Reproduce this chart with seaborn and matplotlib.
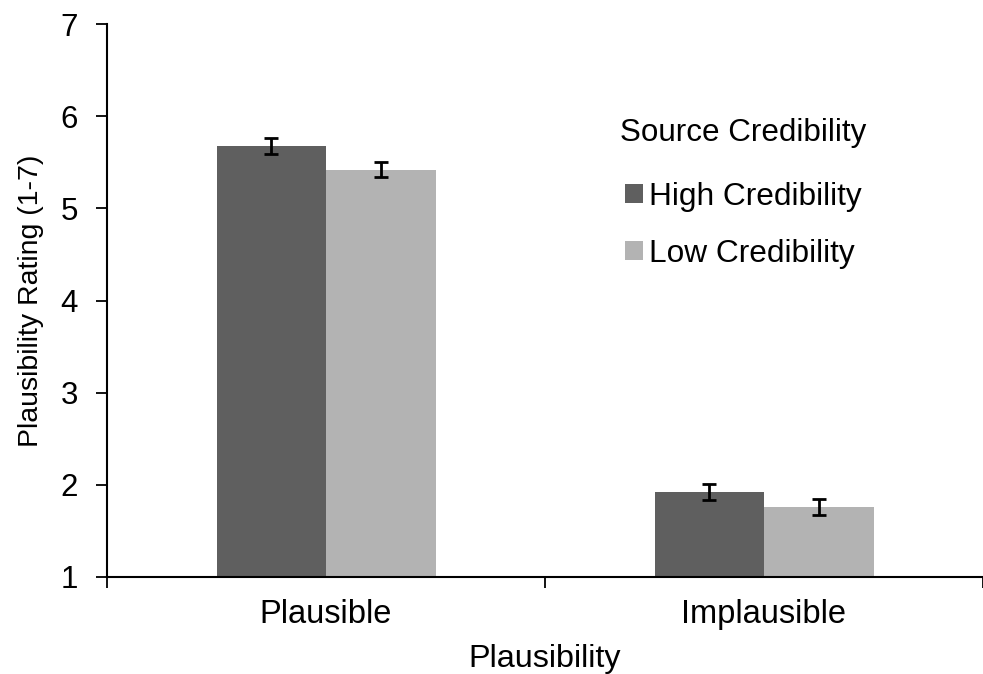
import matplotlib
matplotlib.use('Agg')
import matplotlib.pyplot as plt
import seaborn as sns
import pandas as pd

# data
plausibility = ['Plausible', 'Implausible']
high_cred = [5.68, 1.92]
low_cred = [5.42, 1.76]
high_err = [0.087, 0.088]
low_err = [0.08, 0.087]

sns.set_style('white')
plt.rcParams['font.family'] = ['Liberation Sans', 'DejaVu Sans']
plt.rcParams['text.color'] = 'black'
plt.rcParams['axes.labelcolor'] = 'black'
plt.rcParams['xtick.color'] = 'black'
plt.rcParams['ytick.color'] = 'black'

df = pd.DataFrame({
    'Plausibility': plausibility * 2,
    'Rating': high_cred + low_cred,
    'Source Credibility': ['High Credibility'] * 2 + ['Low Credibility'] * 2,
})
errs = {'High Credibility': high_err, 'Low Credibility': low_err}

fig = plt.figure(figsize=(9.83, 6.74), dpi=100)
ax = fig.add_axes([107 / 983, 1 - 577 / 674, (983 - 107) / 983, 553 / 674])

sns.barplot(data=df, x='Plausibility', y='Rating', hue='Source Credibility',
            palette=['#5f5f5f', '#b3b3b3'], width=0.5, errorbar=None,
            saturation=1, linewidth=0, ax=ax)

# error bars on top of each bar
for cont, (name, e) in zip(ax.containers, errs.items()):
    xs = [p.get_x() + p.get_width() / 2 for p in cont.patches]
    ys = [p.get_height() for p in cont.patches]
    ax.errorbar(xs, ys, yerr=e, fmt='none', ecolor='black',
                elinewidth=2, capsize=5, capthick=2)

ax.set_ylim(1, 7)
ax.set_yticks(range(1, 8))
ax.set_xlim(-0.5, 1.485)
ax.set_xticks([0, 1])
ax.set_xticks([-0.5, 0.5, 1.5], minor=True)
ax.tick_params(axis='x', which='major', length=0, labelsize=23.5, pad=16)
ax.tick_params(axis='x', which='minor', length=8, width=1.3, direction='out', bottom=True)
ax.tick_params(axis='y', length=8, width=1.3, direction='out', left=True, labelsize=22.5, pad=13)

ax.set_xlabel('Plausibility', fontsize=23.3, labelpad=10)
ax.set_ylabel('Plausibility Rating (1-7)', fontsize=20.5, labelpad=12)

for s in ['top', 'right']:
    ax.spines[s].set_visible(False)
for s in ['left', 'bottom']:
    ax.spines[s].set_color('black')
    ax.spines[s].set_linewidth(1.5)

leg = ax.legend(title='Source Credibility', frameon=False, fontsize=22.8, title_fontsize=22.6,
                loc='upper left', bbox_to_anchor=(592 / 983, 1 - 90 / 674),
                bbox_transform=fig.transFigure, handlelength=0.55, handleheight=0.55,
                handletextpad=0.2, labelspacing=0.85)
leg.get_title().set_ha('left')
leg._legend_box.sep = 24

fig.savefig('out.png', dpi=100)
